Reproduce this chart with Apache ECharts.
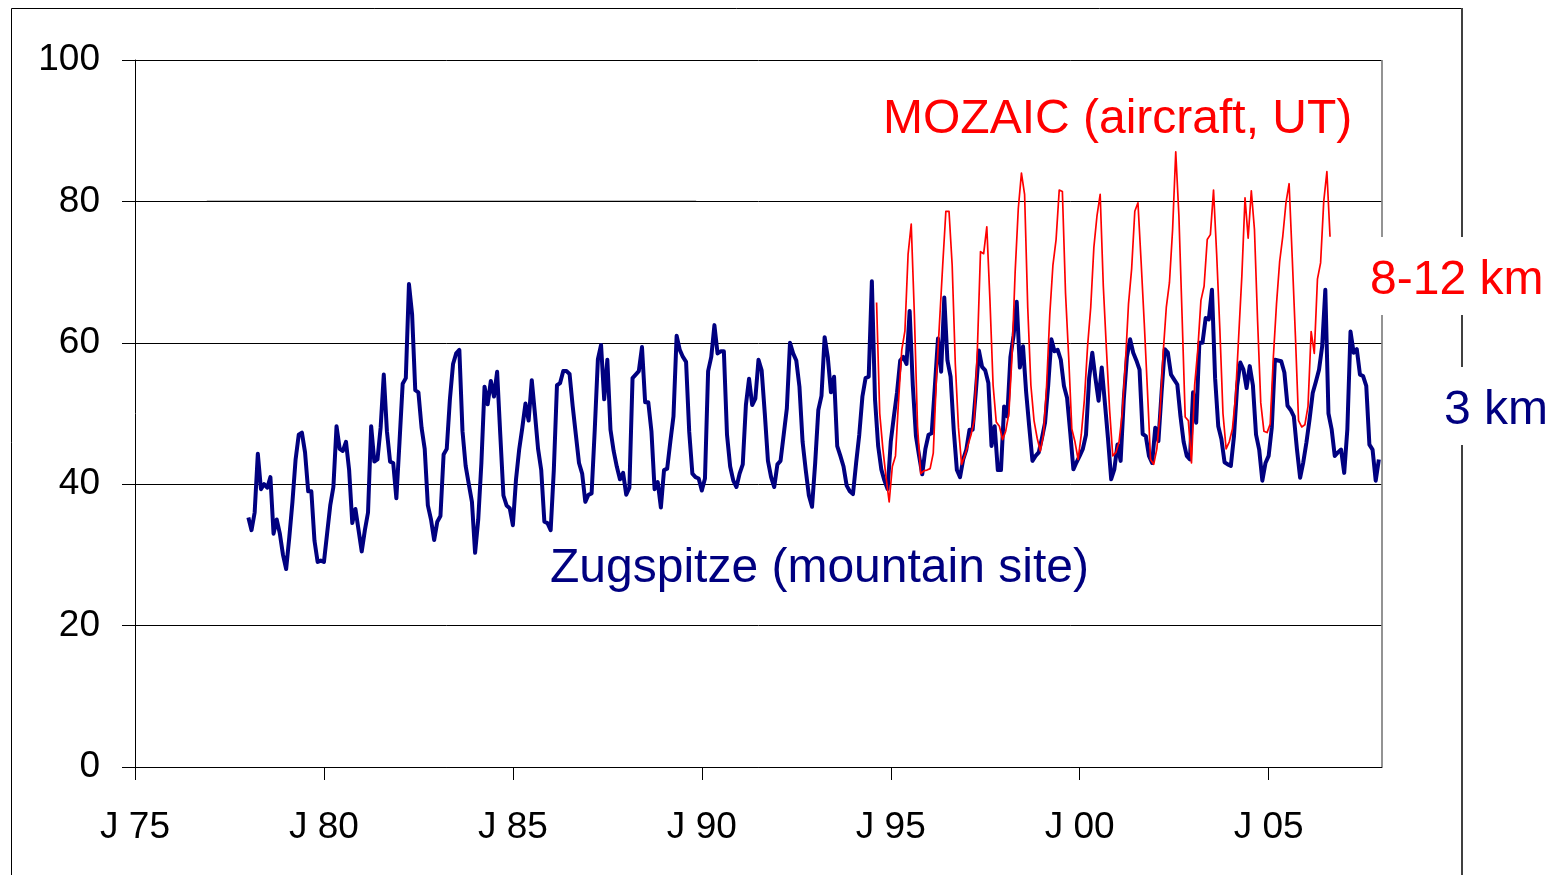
<!DOCTYPE html>
<html>
<head>
<meta charset="utf-8">
<script src="https://cdn.jsdelivr.net/npm/echarts@6/dist/echarts.min.js"></script>
<style>
html,body{margin:0;padding:0;background:#fff;}
#chart{width:1564px;height:875px;}
</style>
</head>
<body>
<div id="chart"></div>
<script>
// ---- data ----
// Zugspitze monthly ozone (ppb), starting Jan 1978
var zugStartYear = 1978.0;
var zugspitze = [
  35.3, 33.5, 36, 44.3, 39.3, 40, 39.5, 41, 33, 35, 33, 30,
  28, 32.5, 37.5, 43.5, 47, 47.3, 44.5, 39, 39, 32, 29, 29.2,
  29, 33, 37, 39.6, 48.2, 45, 44.7, 46, 42, 34.5, 36.5, 33.5,
  30.5, 33.5, 36, 48.2, 43.2, 43.5, 48, 55.5, 47.5, 43.2, 43, 38,
  46, 54.2, 55, 68.3, 64, 53.3, 53, 48, 45, 37, 35, 32.1,
  34.7, 35.5, 44.2, 45, 52, 57, 58.5, 59, 47.5, 42.6, 40, 37.5,
  30.3, 35, 43, 53.8, 51.3, 54.6, 52.4, 55.9, 47, 38.4, 37, 36.6,
  34.2, 40.7, 44.9, 48, 51.4, 49, 54.7, 50, 45, 42, 34.7, 34.5,
  33.5, 42, 54, 54.3, 56, 56, 55.6, 51, 47, 43, 41.5, 37.5,
  38.5, 38.7, 47.7, 57.7, 59.7, 52, 57.6, 47.7, 44.7, 42.5, 40.7, 41.6,
  38.5, 39.5, 55, 55.5, 56, 59.4, 51.6, 51.6, 47.5, 39.3, 40.3, 36.7,
  42, 42.2, 46, 49.6, 61, 59, 58, 57.3, 47.4, 41.5, 41, 40.8,
  39.1, 40.8, 56, 58, 62.5, 58.5, 58.8, 58.8, 47, 42.5, 40.5, 39.6,
  41.5, 42.8, 51.2, 54.9, 51.2, 52.1, 57.6, 56.1, 50, 43.3, 41, 39.6,
  42.8, 43.3, 47, 50.7, 60, 58.5, 57.5, 53.8, 46, 42, 38.4, 36.8,
  43, 50.5, 52.5, 60.8, 58, 53, 55.2, 45.4, 44, 42.5, 39.8, 39,
  38.6, 43, 47, 52.4, 55, 55.2, 68.7, 52, 45.4, 42.1, 40.5, 39.3,
  46, 49.6, 53, 57.5, 58, 57, 64.5, 54, 46.8, 44, 41.4, 45,
  47, 47.2, 53.8, 60.6, 55.9, 66.4, 57.5, 55.2, 47.7, 42, 41, 43.5,
  44.9, 47.7, 47.7, 53, 58.9, 56.6, 56.1, 54.3, 45.4, 48.2, 42, 42,
  51, 49.6, 58, 61, 65.8, 56.5, 59.5, 53, 48, 43.3, 44, 44.5,
  46.5, 48.7, 54, 60.5, 58.8, 59, 57.6, 53.9, 52.2, 47.3, 42.1, 43.1,
  44, 45, 47, 55, 58.6, 55, 51.8, 56.5, 51.5, 46.4, 40.7, 42.1,
  45.6, 43.3, 52, 58, 60.5, 58.6, 57.5, 56.2, 47.1, 46.8, 44, 43,
  48, 46.1, 53, 59.1, 58.6, 55.5, 54.8, 54.1, 49.6, 46, 44, 43.5,
  53, 48.7, 60, 60, 63.5, 63.3, 67.5, 55, 48.2, 46.4, 43.1, 42.8,
  42.6, 46.8, 53.9, 57.2, 56.2, 53.6, 56.7, 54, 47, 44.9, 40.5, 43,
  44, 48, 57.6, 57.5, 57.4, 55.8, 51.1, 50.5, 49.6, 44.9, 40.9, 43.1,
  45.9, 49.2, 52.9, 54.5, 56.2, 59.5, 67.5, 50, 47.8, 44, 44.5, 44.9,
  41.6, 47.8, 61.6, 58.6, 59.1, 55.5, 55.3, 53.9, 45.6, 44.9, 40.5, 43.5
];

// MOZAIC monthly ozone (ppb), 8-12 km
var mozStartYear = 1994.625;
var mozaic = [
  65.7, 50, 45, 41, 37.5, 42.5, 44, 52, 59, 61.7, 72.5, 76.8,
  64, 48.2, 41.5, 41.9, 42, 42.2, 44.4, 55, 63, 71, 78.6, 78.6,
  71, 57, 48, 42.8, 44, 45.5, 47, 49, 59, 72.9, 72.6, 76.4,
  66, 54, 48.8, 48.2, 46.3, 47.5, 50, 58, 70, 79, 84, 81,
  65, 54, 49, 46.5, 44.7, 47, 54, 64, 71, 74.6, 81.6, 81.4,
  67, 58, 47.8, 46, 43.5, 47, 52, 59.5, 65, 73.5, 78, 81,
  68, 59, 50.5, 44, 44.5, 46, 50, 57, 65.5, 70.5, 78.6, 79.8,
  71.5, 62.8, 53.4, 43.5, 42.8, 45, 50, 58.5, 65, 68.5, 76, 87,
  78, 64, 49.5, 49, 43, 54, 59, 66, 68, 74.6, 75.3, 81.6,
  72.5, 62, 50, 45, 46, 47.8, 52.5, 61, 69.5, 80.5, 74.8, 81.5,
  76, 63, 51.5, 47.5, 47.3, 48.5, 58, 65.5, 71.5, 75.1, 79.8, 82.5,
  72, 61, 49, 48.1, 48.4, 51, 61.6, 58.5, 69, 71.3, 80, 84.2,
  75
];

// horizontal reference line (black) at 80
var refLineYears = [1976.9, 1989.85];
var refLineValue = 80;

// axis ticks
var xTicks = [1975, 1980, 1985, 1990, 1995, 2000, 2005];
var xMin = 1975, xMax = 2008;
var yMin = 0, yMax = 100, yStep = 20;

// labels
var labelMozaic = 'MOZAIC (aircraft, UT)';
var labelZug = 'Zugspitze (mountain site)';
var labelUpper = '8-12 km';
var labelLower = '3 km';

// ---- build ----
function monthly(start, vals) {
  return vals.map(function (v, i) { return [start + i / 12, v]; });
}
var FONT = '"Liberation Sans", Arial, Helvetica, sans-serif';

var chart = echarts.init(document.getElementById('chart'), null, {renderer: 'canvas'});
var option = {
  animation: false,
  backgroundColor: '#ffffff',
  grid: {left: 135, right: 182, top: 60, bottom: 108, containLabel: false, outerBoundsMode: 'none'},
  xAxis: {
    type: 'value', min: xMin, max: xMax, interval: 5,
    splitLine: {show: false},
    axisLine: {show: true, onZero: false, lineStyle: {color: '#000', width: 1}},
    axisTick: {show: true, inside: false, length: 13, lineStyle: {color: '#000', width: 1}, customValues: xTicks},
    axisLabel: {
      color: '#000', fontSize: 37, fontFamily: FONT, margin: 42,
      customValues: xTicks,
      formatter: function (v) {
        var yy = Math.round(v) % 100;
        return 'J ' + (yy < 10 ? '0' + yy : '' + yy);
      }
    }
  },
  yAxis: {
    type: 'value', min: yMin, max: yMax, interval: yStep,
    axisLine: {show: true, lineStyle: {color: '#000', width: 1}},
    axisTick: {show: true, inside: false, length: 13, lineStyle: {color: '#000', width: 1}},
    splitLine: {show: true, lineStyle: {color: '#000', width: 1}},
    axisLabel: {color: '#000', fontSize: 37, fontFamily: FONT, margin: 35, padding: [7, 0, 0, 0]}
  },
  series: [
    {
      name: 'Zugspitze', type: 'line', data: monthly(zugStartYear, zugspitze),
      showSymbol: false, symbol: 'none',
      lineStyle: {color: '#000080', width: 4, join: 'round'},
      itemStyle: {color: '#000080'}, z: 3
    },
    {
      name: 'MOZAIC', type: 'line', data: monthly(mozStartYear, mozaic),
      showSymbol: false, symbol: 'none',
      lineStyle: {color: '#ff0000', width: 1.7, join: 'round'},
      itemStyle: {color: '#ff0000'}, z: 4
    },
    {
      name: 'ref', type: 'line', data: refLineYears.map(function (x) { return [x, refLineValue]; }),
      showSymbol: false, symbol: 'none',
      lineStyle: {color: '#000', width: 1.3}, z: 2
    }
  ],
  graphic: [
    // outer frame
    {type: 'line', shape: {x1: 11.5, y1: 8.5, x2: 1462, y2: 8.5}, style: {stroke: '#000', lineWidth: 1}, z: 1},
    {type: 'line', shape: {x1: 11.5, y1: 8.5, x2: 11.5, y2: 880}, style: {stroke: '#000', lineWidth: 1}, z: 1},
    {type: 'line', shape: {x1: 1462, y1: 8, x2: 1462, y2: 880}, style: {stroke: '#404040', lineWidth: 2}, z: 1},
    // plot area right border
    {type: 'line', shape: {x1: 1382, y1: 60, x2: 1382, y2: 767}, style: {stroke: '#808080', lineWidth: 1.7}, z: 1},
    // label boxes
    {type: 'rect', shape: {x: 1366, y: 237, width: 190, height: 78}, style: {fill: '#fff'}, z: 50},
    {type: 'rect', shape: {x: 1436, y: 367, width: 120, height: 78}, style: {fill: '#fff'}, z: 50},
    // texts
    {type: 'text', x: 883, y: 120, z: 60, style: {text: labelMozaic, fill: '#ff0000', font: '48px ' + FONT, textAlign: 'left', textVerticalAlign: 'middle'}},
    {type: 'text', x: 550, y: 569, z: 60, style: {text: labelZug, fill: '#000080', font: '48px ' + FONT, textAlign: 'left', textVerticalAlign: 'middle'}},
    {type: 'text', x: 1370, y: 281, z: 60, style: {text: labelUpper, fill: '#ff0000', font: '48px ' + FONT, textAlign: 'left', textVerticalAlign: 'middle'}},
    {type: 'text', x: 1444, y: 411, z: 60, style: {text: labelLower, fill: '#000080', font: '48px ' + FONT, textAlign: 'left', textVerticalAlign: 'middle'}}
  ]
};
chart.setOption(option);
</script>
</body>
</html>
